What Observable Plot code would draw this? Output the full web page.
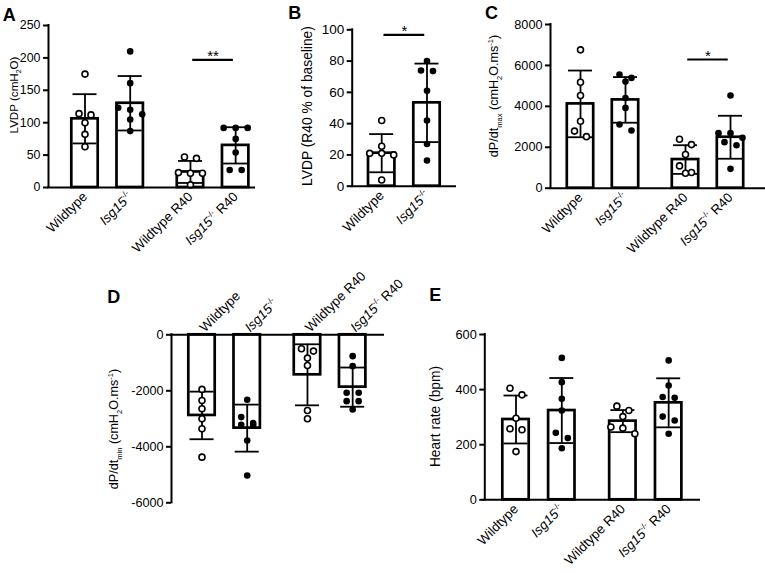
<!DOCTYPE html>
<html><head><meta charset="utf-8">
<script src="https://cdn.jsdelivr.net/npm/d3@7"></script>
<script src="https://cdn.jsdelivr.net/npm/@observablehq/plot@0.6"></script>
<style>
body{margin:0;background:#fff;}
#root{position:relative;width:765px;height:573px;overflow:hidden;font-family:"Liberation Sans",Arial,Helvetica,sans-serif;}
#root svg{position:absolute;left:0;top:0;overflow:visible;}
</style></head><body><div id="root"></div>
<script>
// ---------- DATA ----------
const labels4 = ["Wildtype", "*{Isg15}^{-/-}", "Wildtype R40", "*{Isg15}^{-/-} R40"];
const groups4 = ["Baseline", "Baseline", "R40", "R40"];
const genotype4 = ["WT", "KO", "WT", "KO"];
const labels2 = ["Wildtype", "*{Isg15}^{-/-}"];
const groups2 = ["R40", "R40"];
const genotype2 = ["WT", "KO"];

// A: LVDP
const aMean = [106, 130, 24, 65];
const aSD = [38, 42, 17, 28];
const aPoints = [[175, 114, 112, 100, 82, 63], [210, 161, 123, 120, 113, 105, 87], [47, 45, 23, 22, 22, 4], [92, 92, 92, 75, 54, 27, 27]];
const aSigPairs = [[2, 3]], aSigY = [197], aSigText = ["**"];
const aTicks = [0, 50, 100, 150, 200, 250];
const aLabel = "LVDP (cmH_{2}O)";

// B: LVDP % of baseline
const bMean = [21.1, 53.3];
const bSD = [12.2, 25.1];
const bPoints = [[42, 25.5, 21, 21, 20, 4], [80, 74, 73.6, 61, 42, 27, 16.4]];
const bSigPairs = [[0, 1]], bSigY = [96.8], bSigText = ["*"];
const bTicks = [0, 20, 40, 60, 80, 100];
const bLabel = "LVDP (R40 % of baseline)";

// C: dP/dt max
const cMean = [4120, 4315, 1400, 2490];
const cSD = [1630, 1115, 700, 1050];
const cPoints = [[6760, 5180, 4530, 3270, 2790, 2520], [5550, 5390, 5210, 4410, 3925, 3110, 2820], [2390, 2130, 1645, 1090, 765, 733], [4530, 2690, 2690, 2460, 2250, 2100, 945]];
const cSigPairs = [[2, 3]], cSigY = [6290], cSigText = ["*"];
const cTicks = [0, 2000, 4000, 6000, 8000];
const cLabel = "dP/dt_{max} (cmH_{2}O.ms^{-1})";

// D: dP/dt min
const dMean = [-2880, -3333, -1429, -1869];
const dSD = [850, 840, 1090, 700];
const dPoints = [[-1950, -2345, -2643, -3000, -3357, -4369], [-2321, -2940, -3155, -3214, -3250, -3774, -5024], [-500, -583, -833, -1095, -2702, -3000], [-762, -1119, -2071, -2071, -2369, -2369, -2667]];
const dTicks = [0, -2000, -4000, -6000];
const dLabel = "dP/dt_{min} (cmH_{2}O.ms^{-1})";

// E: heart rate
const eMean = [291.5, 324, 285.5, 352];
const eSD = [87, 118, 40, 89];
const ePoints = [[405, 381, 296, 258, 254, 175], [515, 427, 367, 324, 243, 224, 187], [340, 324, 302, 264, 260, 240], [506, 415, 373, 370, 302, 288, 240]];
const eTicks = [0, 200, 400, 600];
const eLabel = "Heart rate (bpm)";

// ---------- LAYOUT ----------
const W = 765, H = 573, GAP = 1 / 3;
const FONT = '"Liberation Sans", Arial, Helvetica, sans-serif';
const layout = {
  A: {left: 48, right: 254, top: 25, bottom: 187, c0: 84.5, k: 45.2, domain: [0, 250], tick: 12.4, xtick: 13.3, lab: 11.6, labPos: [14, 95], letter: [2.7, 20.7]},
  B: {left: 351.7, right: 455, top: 29.3, bottom: 185.7, c0: 381.2, k: 45.3, domain: [0, 100], tick: 13.5, xtick: 13.5, lab: 13.8, labPos: [307.5, 106], letter: [288.3, 19.3]},
  C: {left: 550, right: 765, top: 24, bottom: 187.7, c0: 580, k: 45, domain: [0, 8000], tick: 12.7, xtick: 13.3, lab: 12.6, labPos: [494, 96], letter: [485, 19.3]},
  D: {left: 171, right: 383, top: 334.3, bottom: 502.3, c0: 201.5, k: 45.2, domain: [-6000, 0], tick: 12.6, xtick: 13.3, lab: 12.6, labPos: [114, 429], letter: [107.3, 303.3], topAxis: true},
  E: {left: 484.3, right: 699, top: 334, bottom: 499.3, c0: 515.5, k: 45.8, domain: [0, 600], tick: 12.8, xtick: 13.3, lab: 13.8, labPos: [435.5, 416.5], letter: [429.3, 301]}
};

const root = document.getElementById("root");

function tokens(markup) {
  const out = []; const re = /([_^*])\{([^}]*)\}/g; let last = 0, m;
  while ((m = re.exec(markup))) {
    if (m.index > last) out.push({t: markup.slice(last, m.index), kind: "n"});
    out.push({t: m[2], kind: m[1] === "_" ? "sub" : m[1] === "^" ? "sup" : "it"});
    last = re.lastIndex;
  }
  if (last < markup.length) out.push({t: markup.slice(last), kind: "n"});
  return out;
}
function rich(el, markup, size, baseDy) {
  const sel = d3.select(el); sel.text(null);
  let shift = 0, first = true;
  for (const tk of tokens(markup)) {
    const target = tk.kind === "sub" ? 0.28 * size : tk.kind === "sup" ? -0.42 * size : 0;
    const ts = sel.append("tspan").text(tk.t);
    ts.attr("dy", (first ? baseDy : 0) + target - shift);
    shift = target; first = false;
    if (tk.kind === "sub" || tk.kind === "sup") ts.attr("font-size", (size * 0.6).toFixed(2));
    if (tk.kind === "it") ts.attr("font-style", "italic");
  }
}
function emToPx(v, size) {
  if (v == null) return 0;
  return v.endsWith("em") ? parseFloat(v) * size : parseFloat(v) || 0;
}

function panel(key, d) {
  const L = layout[key];
  const groupsU = [...new Set(d.groups)];
  const pos = d.groups.map((g, i) => i + GAP * groupsU.indexOf(g));
  const k = L.k;
  const xd = [(L.left - L.c0) / k, (L.right - L.c0) / k];
  const pxu = (L.bottom - L.top) / (L.domain[1] - L.domain[0]);
  const bw = 13.2 / k, cw = 12 / k, s = 12 / k;
  const bars = d.mean.map((m, i) => ({pos: pos[i], mean: m, sd: d.sd[i]}));
  const caps = bars.flatMap(b => [{pos: b.pos, y: b.mean + b.sd}, {pos: b.pos, y: b.mean - b.sd}]);
  const pts = [];
  d.points.forEach((vals, i) => {
    const sorted = [...vals].sort((a, b) => b - a);
    const rows = [];
    for (const v of sorted) {
      const r = rows[rows.length - 1];
      if (r && Math.abs(r[0] - v) * pxu < 6.7) r.push(v); else rows.push([v]);
    }
    for (const r of rows) r.forEach((v, j) => pts.push({x: pos[i] + (j - (r.length - 1) / 2) * s, v, open: d.genotype[i] === "WT"}));
  });
  const sigs = (d.sigPairs || []).map((p, i) => ({x1: pos[p[0]] + 0.05, x2: pos[p[1]] - 0.05, y: d.sigY[i], t: d.sigText[i]}));
  const svg = Plot.plot({
    width: W, height: H,
    marginLeft: L.left, marginRight: W - L.right, marginTop: L.top, marginBottom: H - L.bottom,
    x: {type: "linear", domain: xd},
    y: {domain: L.domain},
    style: {background: "transparent", color: "black", fontFamily: FONT, overflow: "visible"},
    marks: [
      Plot.rectY(bars, {x1: b => b.pos - bw, x2: b => b.pos + bw, y1: 0, y2: "mean", fill: "white", stroke: "black", strokeWidth: 2.7}),
      Plot.ruleX(bars, {x: "pos", y1: b => b.mean - b.sd, y2: b => b.mean + b.sd, stroke: "black", strokeWidth: 1.8}),
      Plot.ruleY(caps, {y: "y", x1: c => c.pos - cw, x2: c => c.pos + cw, stroke: "black", strokeWidth: 1.8}),
      Plot.dot(pts.filter(p => p.open), {x: "x", y: "v", r: 3, fill: "white", stroke: "black", strokeWidth: 1.6}),
      Plot.dot(pts.filter(p => !p.open), {x: "x", y: "v", r: 3.3, fill: "black", stroke: "none"}),
      Plot.ruleY(sigs, {y: "y", x1: "x1", x2: "x2", stroke: "black", strokeWidth: 2.2}),
      Plot.text(sigs, {x: s => (s.x1 + s.x2) / 2, y: "y", text: "t", fontSize: 15, dy: -3.5, fill: "black"}),
      Plot.ruleX([xd[0]], {stroke: "black", strokeWidth: 2, strokeLinecap: "square"}),
      Plot.ruleY([0], {stroke: "black", strokeWidth: 2, strokeLinecap: "square"}),
      Plot.axisY({ticks: d.ticks, tickFormat: v => String(v), tickSize: 5, tickPadding: 3, strokeWidth: 2, fontSize: L.tick, label: null}),
      Plot.axisX({anchor: L.topAxis ? "top" : "bottom", ticks: pos, tickFormat: v => d.labels[pos.indexOf(v)], tickRotate: -45, tickSize: 0, tickPadding: L.topAxis ? 5 : 7, fontSize: L.xtick, label: null})
    ]
  });
  // rich text for tick labels
  d3.select(svg).selectAll('g[aria-label="x-axis tick label"] text').each(function () {
    const base = emToPx(this.getAttribute("dy"), L.xtick);
    this.removeAttribute("dy");
    rich(this, this.textContent, L.xtick, base);
  });
  // y-axis title
  const lab = d3.select(svg).append("text")
    .attr("transform", `translate(${L.labPos[0]},${L.labPos[1]}) rotate(-90)`)
    .attr("text-anchor", "middle").attr("font-family", FONT).attr("font-size", L.lab).attr("fill", "black");
  rich(lab.node(), d.ylabel, L.lab, 0.35 * L.lab);
  root.appendChild(svg);
}

panel("A", {labels: labels4, groups: groups4, genotype: genotype4, mean: aMean, sd: aSD, points: aPoints, sigPairs: aSigPairs, sigY: aSigY, sigText: aSigText, ticks: aTicks, ylabel: aLabel});
panel("B", {labels: labels2, groups: groups2, genotype: genotype2, mean: bMean, sd: bSD, points: bPoints, sigPairs: bSigPairs, sigY: bSigY, sigText: bSigText, ticks: bTicks, ylabel: bLabel});
panel("C", {labels: labels4, groups: groups4, genotype: genotype4, mean: cMean, sd: cSD, points: cPoints, sigPairs: cSigPairs, sigY: cSigY, sigText: cSigText, ticks: cTicks, ylabel: cLabel});
panel("D", {labels: labels4, groups: groups4, genotype: genotype4, mean: dMean, sd: dSD, points: dPoints, ticks: dTicks, ylabel: dLabel});
panel("E", {labels: labels4, groups: groups4, genotype: genotype4, mean: eMean, sd: eSD, points: ePoints, ticks: eTicks, ylabel: eLabel});

// panel letters
const ov = d3.select(root).append("svg").attr("width", W).attr("height", H);
for (const key of Object.keys(layout)) {
  ov.append("text").attr("x", layout[key].letter[0]).attr("y", layout[key].letter[1])
    .attr("font-family", FONT).attr("font-weight", "bold").attr("font-size", 18).attr("fill", "black").text(key);
}
</script></body></html>
